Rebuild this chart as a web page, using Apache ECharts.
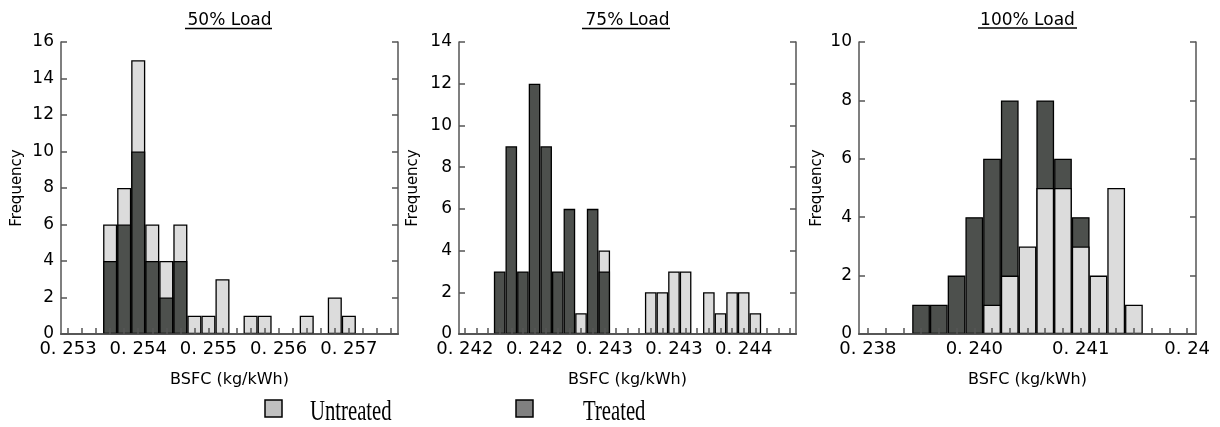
<!DOCTYPE html>
<html lang="en">
<head>
    <meta charset="UTF-8">
    <title>BSFC histograms</title>
    <script src="https://cdn.jsdelivr.net/npm/echarts@6/dist/echarts.min.js"></script>
    <style>
        html, body { margin: 0; padding: 0; background: #fff; }
    </style>
</head>
<body>
    <div id="main" style="width:1220px;height:427px;"></div>

    <script>
// 各负载下的频数（每个箱一个值，0 表示空箱）
var p1Untreated = [0,0,0,6,8,15,6,4,6,1,1,3,0,1,1,0,0,1,0,2,1,0,0,0];
var p1Treated   = [0,0,0,4,6,10,4,2,4,0,0,0,0,0,0,0,0,0,0,0,0,0,0,0];
var p2Untreated = [0,0,0,0,0,0,0,0,0,0,1,0,4,0,0,0,2,2,3,3,0,2,1,2,2,1,0,0,0];
var p2Treated   = [0,0,0,3,9,3,12,9,3,6,0,6,3,0,0,0,0,0,0,0,0,0,0,0,0,0,0,0,0];
var p3Untreated = [0,0,0,0,0,0,0,1,2,3,5,5,3,2,5,1,0,0,0];
var p3Treated   = [0,0,0,1,1,2,4,6,8,0,8,6,4,0,0,0,0,0,0];

// x 轴刻度标签（按箱的序号）
var p1TickIdx = [0, 5, 10, 15, 20];
var p1TickLabels = ['0. 253', '0. 254', '0. 255', '0. 256', '0. 257'];
var p2TickIdx = [0, 6, 12, 18, 24];
var p2TickLabels = ['0. 242', '0. 242', '0. 243', '0. 243', '0. 244'];
var p3TickIdx = [0, 6, 12, 18];
var p3TickLabels = ['0. 238', '0. 240', '0. 241', '0. 24'];

var titles = ['50% Load', '75% Load', '100% Load'];
var yMax = [16, 14, 10];

var FONT = 'DejaVu Sans';
var LIGHT = '#dcdcdc', DARK = '#4d504d', AXIS = '#555';

var panels = [
    { u: p1Untreated, t: p1Treated, idx: p1TickIdx, lab: p1TickLabels, left: 61, nameGap: 36, treatedBehind: false },
    { u: p2Untreated, t: p2Treated, idx: p2TickIdx, lab: p2TickLabels, left: 459, nameGap: 38, treatedBehind: false },
    { u: p3Untreated, t: p3Treated, idx: p3TickIdx, lab: p3TickLabels, left: 859, nameGap: 34, treatedBehind: true }
];

var option = {
    animation: false,
    backgroundColor: '#fff',
    title: [], grid: [], xAxis: [], yAxis: [], series: [], graphic: []
};

var lineStyle = { color: AXIS, width: 1.5 };

panels.forEach(function (p, i) {
    var cats = p.u.map(function (v, k) { return String(k); });
    var labelMap = {};
    p.idx.forEach(function (k, j) { labelMap[k] = p.lab[j]; });

    option.grid.push({ left: p.left, width: 337, top: 42, height: 292 });
    option.title.push({
        text: titles[i], left: p.left + 168.5, top: 12, textAlign: 'center', padding: 0,
        textStyle: { fontFamily: FONT, fontSize: 17, fontWeight: 'normal', color: '#000' }
    });

    // 下方轴：标签和名称（柱子挂在这根轴上）
    option.xAxis.push({
        type: 'category', gridIndex: i, data: cats, boundaryGap: true, position: 'bottom',
        axisLine: { show: true, onZero: false, lineStyle: lineStyle },
        axisTick: { show: false },
        axisLabel: {
            interval: function (k) { return labelMap[k] !== undefined; },
            margin: 6, fontFamily: FONT, fontSize: 18, color: '#000',
            formatter: function (v, k) { return labelMap[k] || ''; }
        },
        name: 'BSFC (kg/kWh)', nameLocation: 'middle', nameGap: 38,
        nameTextStyle: { fontFamily: FONT, fontSize: 16, color: '#000' }
    });
    // 上方轴
    option.xAxis.push({
        type: 'category', gridIndex: i, data: cats, boundaryGap: true, position: 'top',
        axisLine: { lineStyle: lineStyle },
        axisTick: { inside: true, length: 6, interval: 0, alignWithLabel: true, lineStyle: lineStyle },
        axisLabel: { show: false }
    });
    // 下方轴：只画向内的刻度线
    option.xAxis.push({
        type: 'category', gridIndex: i, data: cats, boundaryGap: true, position: 'bottom', z: 10,
        axisLine: { show: true, onZero: false, lineStyle: lineStyle },
        axisTick: { show: true, inside: true, length: 6, interval: 0, alignWithLabel: true, lineStyle: lineStyle },
        axisLabel: { show: false }
    });
    option.yAxis.push({
        type: 'value', gridIndex: i, min: 0, max: yMax[i], interval: 2,
        splitLine: { show: false },
        axisLine: { show: true, lineStyle: lineStyle },
        axisTick: { show: true, inside: true, length: 6, lineStyle: lineStyle },
        axisLabel: { margin: 7, fontFamily: FONT, fontSize: 17, color: '#000' },
        name: 'Frequency', nameLocation: 'middle', nameRotate: 90, nameGap: p.nameGap,
        nameTextStyle: { fontFamily: FONT, fontSize: 15, color: '#000' }
    });
    option.yAxis.push({
        type: 'value', gridIndex: i, min: 0, max: yMax[i], interval: 2, position: 'right',
        splitLine: { show: false },
        axisLine: { show: true, lineStyle: lineStyle },
        axisTick: { show: true, inside: true, length: 6, lineStyle: lineStyle },
        axisLabel: { show: false }
    });

    function bar(name, values, color) {
        return {
            name: name, type: 'bar', xAxisIndex: i * 3, yAxisIndex: i * 2,
            barWidth: '100%', barGap: '-100%',
            data: values.map(function (v) { return v || '-'; }),
            itemStyle: { color: color, borderColor: '#000', borderWidth: 1.3 }
        };
    }
    // 矮的那组画在前面
    var u = bar('Untreated', p.u, LIGHT), t = bar('Treated', p.t, DARK);
    if (p.treatedBehind) option.series.push(t, u);
    else option.series.push(u, t);
});

// 标题下划线
var underline = [[185, 272, 28.5], [582, 670, 28.5], [978, 1077, 28]];
underline.forEach(function (l) {
    option.graphic.push({
        type: 'line', shape: { x1: l[0], y1: l[2], x2: l[1], y2: l[2] },
        style: { stroke: '#000', lineWidth: 1.3 }
    });
});

// 图例
var legendItems = [
    { text: 'Untreated', color: '#c0c0c0', box: 265, tx: 310 },
    { text: 'Treated', color: '#808080', box: 516, tx: 583 }
];
legendItems.forEach(function (it) {
    option.graphic.push({
        type: 'rect', shape: { x: it.box, y: 400, width: 17, height: 17 },
        style: { fill: it.color, stroke: '#000', lineWidth: 1.5 }
    });
    option.graphic.push({
        type: 'text', x: it.tx, y: 412, scaleX: 0.69,
        style: { text: it.text, x: 0, y: 0, fill: '#000', font: '30px "Liberation Serif"', verticalAlign: 'middle', align: 'left' }
    });
});

var myChart = echarts.init(document.getElementById('main'));
myChart.setOption(option);
    </script>
</body>
</html>
